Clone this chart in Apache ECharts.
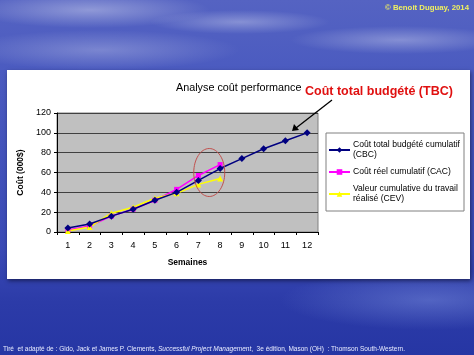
<!DOCTYPE html>
<html>
<head>
<meta charset="utf-8">
<script src="https://cdn.jsdelivr.net/npm/echarts@6/dist/echarts.min.js"></script>
<style>
  html, body { margin: 0; padding: 0; }
  body {
    width: 474px; height: 355px; overflow: hidden;
    background:
      radial-gradient(ellipse 120px 18px at 90px 10px, rgba(255,255,255,0.35), rgba(255,255,255,0) 100%),
      radial-gradient(ellipse 90px 12px at 240px 22px, rgba(255,255,255,0.3), rgba(255,255,255,0) 100%),
      radial-gradient(ellipse 110px 14px at 400px 40px, rgba(255,255,255,0.3), rgba(255,255,255,0) 100%),
      radial-gradient(ellipse 140px 20px at 100px 50px, rgba(255,255,255,0.25), rgba(255,255,255,0) 100%),
      radial-gradient(ellipse 150px 30px at 430px 300px, rgba(120,140,220,0.5), rgba(120,140,220,0) 100%),
      linear-gradient(180deg, #5563c2 0%, #4b5bc0 20%, #3a4ab6 70%, #2c3ba8 85%, #2636a4 100%);
  }
  #chart { width: 474px; height: 355px; }
</style>
</head>
<body>
<div id="chart"></div>
<script>
// weeks on the x axis
const semaines = ['1', '2', '3', '4', '5', '6', '7', '8', '9', '10', '11', '12'];

// cumulative budgeted cost (CBC), actual cost (CAC), earned value (CEV), in 000$
const cbc = [4, 8, 16, 23, 32, 40, 52, 64, 74, 84, 92, 100];
const cac = [2, 6, 16, 23, 32, 43, 57, 68];
const cev = [1, 5, 19, 25, 34, 39, 48, 54];

const legendNames = {
  'Coût total budgété cumulatif (CBC)': 'Coût total budgété cumulatif\n(CBC)',
  'Coût réel cumulatif (CAC)': 'Coût réel cumulatif (CAC)',
  'Valeur cumulative du travail réalisé (CEV)': 'Valeur cumulative du travail\nréalisé (CEV)'
};

const chart = echarts.init(document.getElementById('chart'));
const font = 'Arial, "Liberation Sans", sans-serif';

const option = {
  animation: false,
  textStyle: { fontFamily: font },
  title: {
    text: 'Analyse coût performance',
    left: 171, top: 78,
    textStyle: { fontSize: 10.8, fontWeight: 'normal', color: '#000', fontFamily: font }
  },
  legend: {
    orient: 'vertical',
    left: 326, top: 133,
    width: 140,
    padding: [7, 4, 7, 2],
    itemGap: 7,
    itemWidth: 21,
    itemHeight: 7,
    backgroundColor: '#ffffff',
    borderColor: '#808080',
    borderWidth: 1,
    textStyle: { fontSize: 8.6, lineHeight: 10, color: '#000', fontFamily: font, padding: [0, 0, 0, -2] },
    formatter: n => legendNames[n] || n
  },
  grid: {
    left: 57, right: 156, top: 113, bottom: 123,
    show: true,
    backgroundColor: '#c0c0c0',
    borderColor: '#808080',
    borderWidth: 1
  },
  xAxis: {
    type: 'category',
    data: semaines,
    boundaryGap: true,
    name: 'Semaines',
    nameLocation: 'middle',
    nameGap: 26,
    nameTextStyle: { fontSize: 8.5, fontWeight: 'bold', color: '#000' },
    axisLine: { lineStyle: { color: '#000', width: 1 } },
    axisTick: { show: true, length: 3, alignWithLabel: false, lineStyle: { color: '#000' } },
    axisLabel: { fontSize: 9, color: '#000', margin: 9 },
    splitLine: { show: false }
  },
  yAxis: {
    type: 'value',
    min: 0, max: 120, interval: 20,
    name: 'Coût (000$)',
    nameLocation: 'middle',
    nameRotate: 90,
    nameGap: 27,
    nameTextStyle: { fontSize: 8.5, fontWeight: 'bold', color: '#000' },
    axisLine: { show: true, lineStyle: { color: '#000', width: 1 } },
    axisTick: { show: true, length: 3, lineStyle: { color: '#000' } },
    axisLabel: { fontSize: 9, color: '#000', margin: 6 },
    splitLine: { show: true, lineStyle: { color: '#404040', width: 1 } }
  },
  series: [
    {
      name: 'Coût total budgété cumulatif (CBC)',
      type: 'line',
      data: cbc,
      symbol: 'diamond',
      symbolSize: 7,
      color: '#000080',
      lineStyle: { width: 1.5, color: '#000080' },
      itemStyle: { color: '#000080' },
      z: 3
    },
    {
      name: 'Coût réel cumulatif (CAC)',
      type: 'line',
      data: cac,
      symbol: 'rect',
      symbolSize: 5,
      color: '#ff00ff',
      lineStyle: { width: 1.5, color: '#ff00ff' },
      itemStyle: { color: '#ff00ff' },
      z: 2
    },
    {
      name: 'Valeur cumulative du travail réalisé (CEV)',
      type: 'line',
      data: cev,
      symbol: 'triangle',
      symbolSize: 6,
      color: '#ffff00',
      lineStyle: { width: 1.5, color: '#ffff00' },
      itemStyle: { color: '#ffff00' },
      z: 2
    }
  ]
};

chart.setOption(option);

// ellipse around weeks 7-8, placed from the axes
const c7 = chart.convertToPixel({ gridIndex: 0 }, ['7', 60]);
const c8 = chart.convertToPixel({ gridIndex: 0 }, ['8', 60]);
const cx = (c7[0] + c8[0]) / 2;
const cy = c7[1];

chart.setOption({
  graphic: [
    {
      type: 'rect', z: -10, silent: true,
      shape: { x: 7, y: 70, width: 463, height: 209 },
      style: { fill: '#ffffff', shadowBlur: 4, shadowColor: 'rgba(0,0,20,0.5)', shadowOffsetX: 1, shadowOffsetY: 2 }
    },
    {
      type: 'ellipse', z: 100, silent: true,
      shape: { cx: cx, cy: cy, rx: 15.5, ry: 24 },
      style: { fill: 'none', stroke: '#c0504d', lineWidth: 1 }
    },
    {
      type: 'text', z: 100, silent: true,
      style: {
        text: 'Coût total budgété (TBC)', x: 305, y: 92,
        fill: '#e01010', font: 'bold 12.5px ' + font, verticalAlign: 'middle'
      }
    },
    {
      type: 'line', z: 100, silent: true,
      shape: { x1: 332, y1: 100, x2: 296, y2: 128 },
      style: { stroke: '#000', lineWidth: 1.3 }
    },
    {
      type: 'polygon', z: 100, silent: true,
      shape: { points: [[292, 131], [294, 124], [299, 130]] },
      style: { fill: '#000' }
    },
    {
      type: 'text', silent: true,
      style: {
        text: '© Benoit Duguay, 2014', x: 469, y: 8,
        align: 'right', verticalAlign: 'middle',
        fill: '#f0f060', font: 'bold 7.8px ' + font
      }
    },
    {
      type: 'text', silent: true,
      style: {
        text: '{n|Tiré  et adapté de : Gido, Jack et James P. Clements, }{i|Successful Project Management}{n|,  3e édition, Mason (OH)  : Thomson South-Western.}',
        x: 3, y: 349, verticalAlign: 'middle',
        rich: {
          n: { fill: '#e8ecff', fontSize: 6.5, fontFamily: font },
          i: { fill: '#e8ecff', fontSize: 6.5, fontStyle: 'italic', fontFamily: font }
        }
      }
    }
  ]
});
</script>
</body>
</html>
